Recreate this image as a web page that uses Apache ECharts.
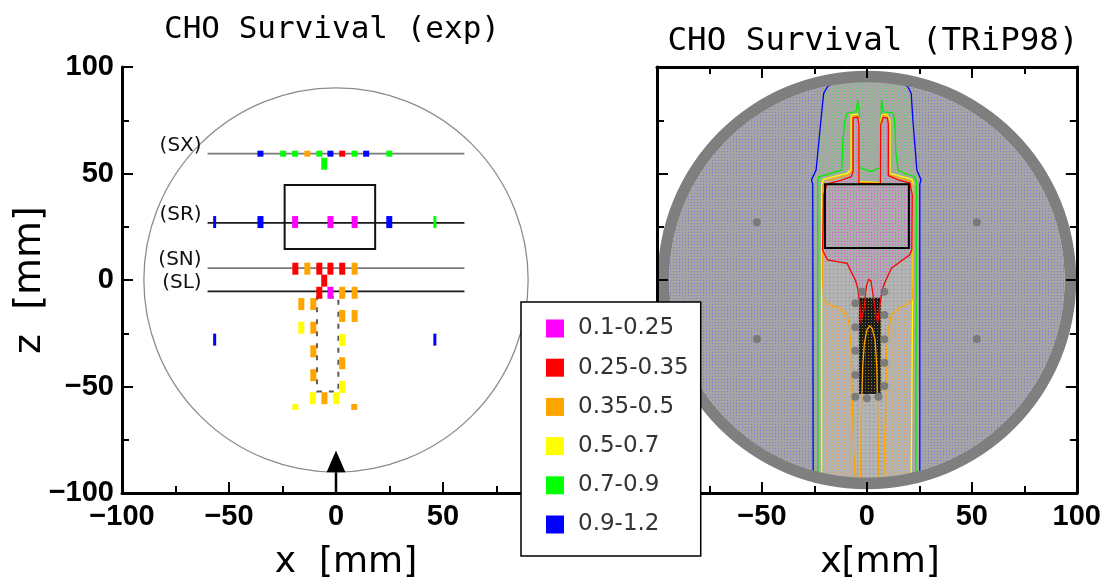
<!DOCTYPE html>
<html>
<head>
<meta charset="utf-8">
<script src="https://cdn.jsdelivr.net/npm/echarts@6/dist/echarts.min.js"></script>
<style>
  html, body { margin: 0; padding: 0; background: #fff; }
  #chart { width: 1104px; height: 584px; }
</style>
</head>
<body>
<div id="chart"></div>
<script>
// ---- survival classes -------------------------------------------------
const CLASS_NAMES  = ['0.1-0.25', '0.25-0.35', '0.35-0.5', '0.5-0.7', '0.7-0.9', '0.9-1.2'];
const CLASS_COLORS = ['#ff00ff', '#ff0000', '#ffa500', '#ffff00', '#00ff00', '#0000ff'];

// ---- measured survival, detector positions [x mm, z mm] per class ----
const MEAS_01_025 = [[-19.1, 27.2], [-2.6, 27.2], [8.7, 27.2], [-2.6, -6.0]];
const MEAS_025_035 = [[2.9, 59.3], [-19.0, 5.3], [-7.8, 5.3], [-2.6, 5.3], [2.9, 5.3],
                      [-5.5, -0.3], [-7.8, -6.0]];
const MEAS_035_05 = [[-13.4, 59.3], [-13.4, 5.3], [8.7, 5.3], [2.9, -6.0], [8.7, -6.0],
                     [-16.2, -11.3], [-10.6, -11.3], [2.9, -16.9], [8.7, -16.9],
                     [-10.6, -22.4], [-10.6, -33.5], [2.9, -39.1], [-10.6, -44.7],
                     [-5.4, -55.5], [8.5, -59.6]];
const MEAS_05_07 = [[-16.2, -22.4], [2.9, -28.2], [2.9, -50.2], [-10.8, -55.5],
                    [0.1, -55.5], [-19.0, -59.6]];
const MEAS_07_09 = [[-24.7, 59.3], [-19.1, 59.3], [-7.8, 59.3], [8.7, 59.3], [24.9, 59.3],
                    [-5.5, 54.6], [46.2, 27.2]];
const MEAS_09_12 = [[-35.3, 59.3], [-2.6, 59.3], [14.1, 59.3], [-56.7, 27.2], [-35.3, 27.2],
                    [24.9, 27.2], [-56.7, -28.0], [46.2, -28.0]];
const MEASUREMENTS = [MEAS_01_025, MEAS_025_035, MEAS_035_05, MEAS_05_07, MEAS_07_09, MEAS_09_12];

// ---- detector rows in the phantom --------------------------------------
const ROW_LABELS = ['(SX)', '(SR)', '(SN)', '(SL)'];
const ROW_Z      = [59.3, 26.8, 5.6, -5.3];
const ROW_X      = [-60, 60];

// ---- phantom geometry [mm] ---------------------------------------------
const PHANTOM_R_EXP = 90;
const PHANTOM_R_IN  = 93.5;
const PHANTOM_R_OUT = 99;
const TARGET_EXP  = [-24.0, 18.3, 14.6, 44.6];   // xmin, xmax, zmin, zmax
const INSERT_EXP  = [-8.9, 1.1, -52.3, -8.1];
const TARGET_CALC = [-20, 20, 15, 45];
const INSERT_CALC = [-3.8, 6.6, -53.5, -8.3];
const BEAM_ARROW  = [[0, -80], [-4.4, -90.3], [4.4, -90.3]];
const BEAM_STEM   = [[0, -90.3], [0, -100]];

// ---- TRiP98 iso-survival contours [x mm, z mm] ---------------------------
const ISO_09 = [[-25.6, -91.5], [-25.8, 45], [-26.4, 47], [-24.2, 51.6], [-21.9, 75],
  [-20.6, 87.6], [-18.8, 90.8], [-14.5, 93.6], [14.9, 93.6], [19.5, 90.8], [21.1, 87.6],
  [21.9, 75], [23.8, 51.6], [25.8, 47], [25.2, 45], [25.2, -91.5]];
const ISO_07 = [[-23.4, -92.3], [-23.4, 46], [-23.0, 48.4], [-18, 49.8], [-14, 51],
  [-12.0, 51.6], [-11.5, 65], [-10.5, 75], [-9.4, 78.3], [-5.2, 79], [-4.4, 83.7],
  [-3.6, 79], [-3.6, 53.2], [-2.5, 52.4], [1.9, 50.9], [6.3, 52.7], [6.8, 75], [7.0, 84.5],
  [7.8, 79], [12.5, 78.3], [13.2, 75], [13.8, 60], [14.8, 51.6], [18, 50], [22.5, 48.6],
  [23.6, 46.5], [23.3, -92.3]];
const ISO_05 = [[-21.6, -93], [-21.6, 45], [-20.8, 47.3], [-15, 48.8], [-9.4, 50.1],
  [-7.5, 52], [-7.5, 77.5], [-4.7, 77.8], [-3.6, 75], [-3.6, 46.2], [6.3, 45.7],
  [6.7, 75], [7.2, 77.5], [9.4, 77.8], [11.0, 75], [11.0, 50.1], [16, 48.8], [21.4, 47.3],
  [22.2, 45], [21.1, -93]];
const ISO_035 = [[-5.5, -95], [-6.3, -79.8], [-7.0, -56.3], [-7.5, -32.9], [-8.3, -21.9],
  [-9.4, -16.4], [-13.1, -13.1], [-17.7, -11.7], [-20.5, -9.4], [-21.2, 0], [-21.0, 44],
  [-19.5, 46.5], [-14, 48], [-8.5, 49.5], [-6.9, 51.5], [-6.9, 76.8], [-4.5, 77.2],
  [-3.7, 74], [-3.7, 45.9], [6.4, 45.5], [6.6, 74], [7.6, 77.2], [9.6, 77], [10.5, 74],
  [10.5, 49.5], [15, 48], [20.8, 46.5], [22.3, 44], [22.0, 0], [21.6, -9.4], [18.8, -11.5],
  [15.5, -13], [11.7, -16.4], [10.2, -23], [9.4, -33], [9.0, -56], [8.3, -79.8], [8.0, -95]];
const ISO_035_CORE = [[-3.0, -95.5], [-2.7, -64], [-2.0, -40.7], [-1.2, -29.7], [0, -23.5],
  [1.3, -21.6], [2.5, -22.7], [3.9, -28.2], [4.7, -40.7], [5.2, -64.1], [5.8, -95.5]];
const ISO_025 = [[-21.1, 14.1], [-20.6, 40], [-19, 45], [-13, 46.6], [-7.5, 48.5],
  [-6.6, 51], [-6.6, 76.0], [-4.4, 76.5], [-3.8, 73], [-3.8, 45.4], [6.4, 45.1], [6.6, 73],
  [7.8, 76.3], [9.8, 76], [10.2, 73], [10.2, 49], [15, 47], [20.5, 45.5], [21.6, 40],
  [21.4, 14.1], [20.3, 11.7], [16.4, 8.9], [11.7, 5.5], [9.1, 0], [7.5, -3.9], [6.3, -10.9],
  [5.2, -19.5], [4.4, -17.2], [2.8, -6.3], [1.9, -0.3], [0.8, 0.3], [-0.3, -3.1],
  [-1.3, -13.3], [-2.8, -19.1], [-3.4, -10.9], [-4.4, -3.9], [-5.5, 0], [-7.5, 3.8],
  [-9.4, 7.8], [-14.1, 8.6], [-18.8, 9.4], [-21.1, 14.1]];

// markers of the detectors in the calculation
const CALC_DETECTORS = [[-5.5, -10.9], [-5.5, -22.2], [-5.5, -33.2], [-5.5, -44.6],
  [-5.5, -54.8], [8.3, -5.5], [8.3, -16.4], [8.3, -27.8], [8.3, -38.8], [8.3, -49.8],
  [0, -55.5], [5.5, -54.8], [-2.3, -5.5], [-52.4, 27.1], [52.4, 27.1], [-52.4, -27.7],
  [52.4, -27.7]];

// ---- helpers ---------------------------------------------------------------
// grid of small coloured dots on a grey ground, used as area fill
function dotFill(base, dot, step) {
  const c = document.createElement('canvas');
  c.width = step; c.height = step;
  const g = c.getContext('2d');
  g.fillStyle = base; g.fillRect(0, 0, step, step);
  g.fillStyle = dot; g.fillRect(1, 1, 1, 1);
  return { image: c, repeat: 'repeat' };
}

function shapeSeries(grid, z, build) {
  return {
    type: 'custom', xAxisIndex: grid, yAxisIndex: grid, z: z, silent: true,
    data: [[0, 0]],
    renderItem: function (params, api) { return build(api); }
  };
}
function polygonSeries(grid, pts, style, z) {
  return shapeSeries(grid, z, api => ({
    type: 'polygon', shape: { points: pts.map(p => api.coord(p)) }, style: style
  }));
}
function polylineSeries(grid, pts, style, z) {
  return shapeSeries(grid, z, api => ({
    type: 'polyline', shape: { points: pts.map(p => api.coord(p)) },
    style: Object.assign({ fill: null }, style)
  }));
}
function boxSeries(grid, box, style, z) {
  return shapeSeries(grid, z, api => {
    const a = api.coord([box[0], box[3]]);
    const b = api.coord([box[1], box[2]]);
    return { type: 'rect', shape: { x: a[0], y: a[1], width: b[0] - a[0], height: b[1] - a[1] }, style: style };
  });
}

const minusFmt = v => (v < 0 ? '\u2212' + (-v) : String(v));
function valueAxis(grid, position, labels, isX) {
  return {
    type: 'value', gridIndex: grid, position: position, min: -100, max: 100, interval: 50,
    z: 12,
    axisLine: { show: true, onZero: false, lineStyle: { color: '#000', width: 3 } },
    axisTick: { show: true, inside: true, length: 11, lineStyle: { color: '#000', width: 2 } },
    minorTick: { show: true, splitNumber: 2, length: 7, lineStyle: { color: '#000', width: 2 } },
    splitLine: { show: false }, minorSplitLine: { show: false },
    axisLabel: {
      show: labels, formatter: minusFmt, margin: isX ? 9 : 8,
      fontFamily: 'Liberation Sans', fontWeight: 'bold', fontSize: 29, color: '#000'
    }
  };
}

// ---- series ---------------------------------------------------------------
const series = [];

// left panel: phantom outline, target box, insert, beam direction
series.push(shapeSeries(0, 1, api => {
  const c = api.coord([0, 0]);
  const s = api.size([PHANTOM_R_EXP, PHANTOM_R_EXP]);
  return { type: 'circle', shape: { cx: c[0], cy: c[1], r: (s[0] + s[1]) / 2 },
           style: { fill: null, stroke: '#8c8c8c', lineWidth: 1.3 } };
}));
ROW_Z.forEach((zr, i) => {
  series.push(shapeSeries(0, 2, api => {
    const a = api.coord([ROW_X[0], zr]);
    const b = api.coord([ROW_X[1], zr]);
    return {
      type: 'group', children: [
        { type: 'line', shape: { x1: a[0], y1: a[1], x2: b[0], y2: b[1] },
          style: { stroke: i % 2 ? '#1a1a1a' : '#7a7a7a', lineWidth: 1.8 } },
        { type: 'text', x: a[0] - 6, y: a[1] - 8,
          style: { text: ROW_LABELS[i], align: 'right', verticalAlign: 'middle',
                   fontFamily: 'DejaVu Sans', fontSize: 20, fill: '#111' } }
      ]
    };
  }));
});
series.push(boxSeries(0, TARGET_EXP, { fill: null, stroke: '#111', lineWidth: 2 }, 2));
series.push(boxSeries(0, INSERT_EXP, { fill: null, stroke: '#5a5a5a', lineWidth: 2, lineDash: [5, 7] }, 2));
series.push(polygonSeries(0, BEAM_ARROW, { fill: '#000' }, 3));
series.push(polylineSeries(0, BEAM_STEM, { stroke: '#000', lineWidth: 2.5 }, 3));

// left panel: measured survival
MEASUREMENTS.forEach((pts, k) => {
  series.push({
    type: 'scatter', name: CLASS_NAMES[k], xAxisIndex: 0, yAxisIndex: 0, z: 5,
    symbol: 'rect',
    symbolSize: v => {
      if (Math.abs(v[0]) > 40) return [3, 12];
      if (Math.abs(v[1] - ROW_Z[0]) < 1 || v[1] < -58) return [6, 6];
      return [6, 12];
    },
    itemStyle: { color: CLASS_COLORS[k], opacity: 1 },
    data: pts, silent: true
  });
});

// right panel: calculated survival map
series.push(shapeSeries(1, 1, api => {
  const c = api.coord([0, 0]);
  const s = api.size([PHANTOM_R_IN, PHANTOM_R_IN]);
  return { type: 'circle', shape: { cx: c[0], cy: c[1], r: (s[0] + s[1]) / 2 },
           style: { fill: dotFill('#a5a5a5', '#7c7cd4', 3) } };
}));
series.push(polygonSeries(1, ISO_09, { fill: dotFill('#a8a8a8', '#5ccc5c', 3) }, 2));
series.push(polygonSeries(1, ISO_05, { fill: dotFill('#b3b3b3', '#e8a040', 3) }, 3));
series.push(polygonSeries(1, ISO_035, { fill: dotFill('#b3b3b3', '#e06060', 4) }, 3));
series.push(polygonSeries(1, ISO_025, { fill: dotFill('#acacac', '#e050e0', 3) }, 4));
series.push(boxSeries(1, INSERT_CALC, { fill: dotFill('#1c1c1c', '#a08000', 3) }, 5));
series.push(polylineSeries(1, ISO_09, { stroke: '#0000ff', lineWidth: 1.3 }, 6));
series.push(polylineSeries(1, ISO_07, { stroke: '#00ee00', lineWidth: 1.3 }, 6));
series.push(polylineSeries(1, ISO_05, { stroke: '#ffff00', lineWidth: 1.3 }, 6));
series.push(polylineSeries(1, ISO_035, { stroke: '#ffa500', lineWidth: 1.3 }, 6));
series.push(polylineSeries(1, ISO_035_CORE, { stroke: '#ffa500', lineWidth: 1.3 }, 6));
series.push(polylineSeries(1, ISO_025, { stroke: '#ff0000', lineWidth: 1.3 }, 6));
series.push({
  type: 'scatter', xAxisIndex: 1, yAxisIndex: 1, z: 7, silent: true,
  symbol: 'circle', symbolSize: 8, itemStyle: { color: '#767676', opacity: 0.9 }, data: CALC_DETECTORS
});
series.push(boxSeries(1, TARGET_CALC, { fill: null, stroke: '#000', lineWidth: 2 }, 8));
series.push(shapeSeries(1, 9, api => {
  const c = api.coord([0, 0]);
  const a = api.size([PHANTOM_R_IN, PHANTOM_R_IN]);
  const b = api.size([PHANTOM_R_OUT, PHANTOM_R_OUT]);
  return { type: 'ring', shape: { cx: c[0], cy: c[1], r0: (a[0] + a[1]) / 2, r: (b[0] + b[1]) / 2 },
           style: { fill: '#7f7f7f' } };
}));

// ---- chart ----------------------------------------------------------------
const option = {
  animation: false,
  backgroundColor: '#fff',
  grid: [
    { left: 122, top: 67, width: 428, height: 426 },
    { left: 657, top: 67, width: 426, height: 426 }
  ],
  xAxis: [
    valueAxis(0, 'bottom', true, true),
    valueAxis(1, 'bottom', true, true),
    valueAxis(1, 'top', false, true)
  ],
  yAxis: [
    valueAxis(0, 'left', true, false),
    valueAxis(1, 'left', false, false),
    valueAxis(1, 'right', false, false)
  ],
  legend: {
    data: CLASS_NAMES, orient: 'vertical', left: 521, top: 302, z: 20,
    icon: 'rect', itemWidth: 18, itemHeight: 18, itemGap: 16.2, selectedMode: false,
    backgroundColor: '#fff', borderColor: '#000', borderWidth: 1.5, borderRadius: 0,
    padding: [15, 12, 20, 25],
    textStyle: { fontFamily: 'DejaVu Sans', fontSize: 23, color: '#333',
                 padding: [0, 0, 0, 9] }
  },
  graphic: [
    { type: 'text', x: 332, y: 30, z: 30,
      style: { text: 'CHO Survival (exp)', fontFamily: 'DejaVu Sans Mono', fontSize: 31,
               fill: '#000', align: 'center', verticalAlign: 'middle' } },
    { type: 'text', x: 873, y: 42, z: 30,
      style: { text: 'CHO Survival (TRiP98)', fontFamily: 'DejaVu Sans Mono', fontSize: 32.5,
               fill: '#000', align: 'center', verticalAlign: 'middle' } },
    { type: 'text', x: 346, y: 563, z: 30,
      style: { text: 'x  [mm]', fontFamily: 'DejaVu Sans', fontSize: 36,
               fill: '#000', align: 'center', verticalAlign: 'middle' } },
    { type: 'text', x: 880, y: 563, z: 30,
      style: { text: 'x[mm]', fontFamily: 'DejaVu Sans', fontSize: 36,
               fill: '#000', align: 'center', verticalAlign: 'middle' } },
    { type: 'text', x: 30, y: 280, z: 30, rotation: Math.PI / 2,
      style: { text: 'z  [mm]', fontFamily: 'DejaVu Sans', fontSize: 38,
               fill: '#000', align: 'center', verticalAlign: 'middle' } }
  ],
  series: series
};

const chart = echarts.init(document.getElementById('chart'), null, { renderer: 'canvas' });
chart.setOption(option);
</script>
</body>
</html>
